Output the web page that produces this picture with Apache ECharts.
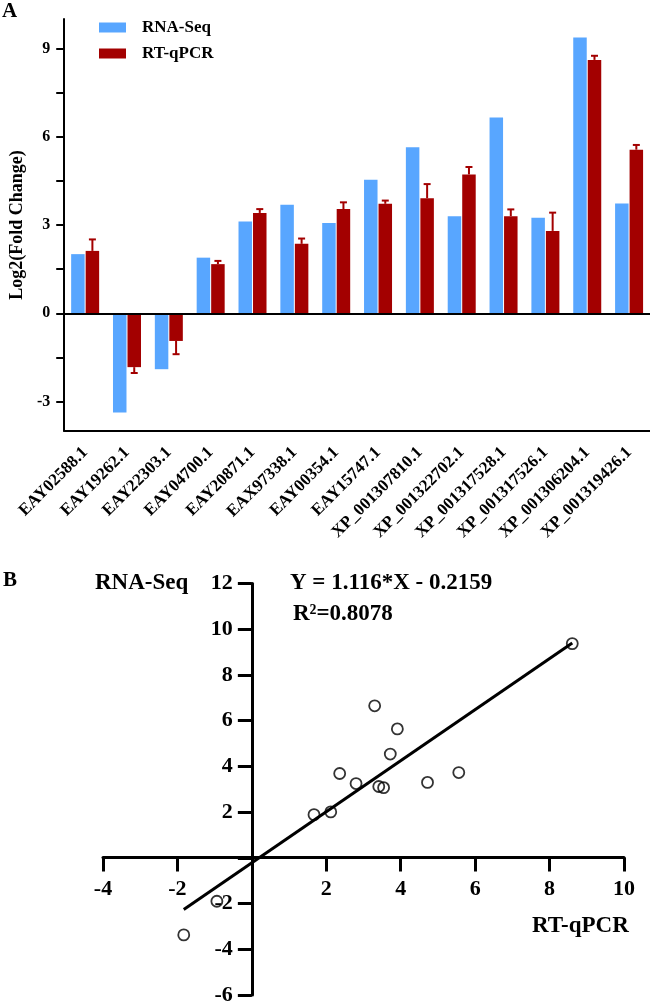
<!DOCTYPE html>
<html>
<head>
<meta charset="utf-8">
<script src="https://cdn.jsdelivr.net/npm/echarts@6/dist/echarts.min.js"></script>
<style>
html,body{margin:0;padding:0;background:#fff;}
#main{width:650px;height:1006px;}
</style>
</head>
<body>
<div id="main"></div>
<script>
// ---- Data ----
const categories = ['EAY02588.1','EAY19262.1','EAY22303.1','EAY04700.1','EAY20871.1','EAX97338.1','EAY00354.1','EAY15747.1','XP_001307810.1','XP_001322702.1','XP_001317528.1','XP_001317526.1','XP_001306204.1','XP_001319426.1'];
const rnaSeq  = [2.01, -3.37, -1.90, 1.89, 3.12, 3.69, 3.07, 4.54, 5.64, 3.30, 6.65, 3.25, 9.37, 3.73];
const rtqPCR  = [2.12, -1.83, -0.94, 1.67, 3.41, 2.36, 3.54, 3.72, 3.91, 4.72, 3.30, 2.80, 8.61, 5.56];
const qpcrErr = [0.39, 0.20, 0.45, 0.11, 0.13, 0.18, 0.23, 0.11, 0.48, 0.25, 0.23, 0.62, 0.14, 0.16];
const barTickValues  = [-3, -1.5, 0, 1.5, 3, 4.5, 6, 7.5, 9];
const barLabelValues = [-3, 0, 3, 6, 9];
const scatterXRange = [-4, 10];
const scatterYRange = [-6, 12];
const slope = 1.116;
const intercept = -0.2159;
const r2Text = '0.8078';

// ---- Derived ----
const scatterData = rtqPCR.map((x, i) => [x, rnaSeq[i]]);
const xMinFit = Math.min(...rtqPCR), xMaxFit = Math.max(...rtqPCR);
const fitLine = [[xMinFit, slope * xMinFit + intercept], [xMaxFit, slope * xMaxFit + intercept]];
const errData = rtqPCR.map((v, i) => [i, v, qpcrErr[i]]);

const FONT = '"Liberation Serif","Times New Roman",serif';
const BAR_W = 13.5, BAR_GAP_PX = 1;

// layout of the lower panel (axes cross at zero)
const G2 = { left: 103, top: 583.5, width: 521, height: 412.5 };
const xZeroOffset = -G2.width * (0 - scatterXRange[0]) / (scatterXRange[1] - scatterXRange[0]);
const yZeroOffset = -G2.height * (0 - scatterYRange[0]) / (scatterYRange[1] - scatterYRange[0]);

const chart = echarts.init(document.getElementById('main'));
const option = {
  animation: false,
  backgroundColor: '#fff',
  textStyle: { fontFamily: FONT, fontWeight: 'bold', color: '#000' },
  grid: [
    { left: 61, top: 19, width: 589, height: 412 },
    G2
  ],
  legend: {
    data: ['RNA-Seq', 'RT-qPCR'],
    orient: 'vertical',
    left: 99, top: 19,
    padding: 0,
    itemWidth: 27, itemHeight: 10, itemGap: 9,
    icon: 'rect',
    textStyle: { fontFamily: FONT, fontWeight: 'bold', fontSize: 17, color: '#000', padding: [0, 0, 0, 11] }
  },
  xAxis: [
    {
      type: 'category', gridIndex: 0, data: categories, boundaryGap: true,
      axisLine: { onZero: false, lineStyle: { color: '#000', width: 2 } },
      axisTick: { alignWithLabel: true, length: 10, lineStyle: { color: '#000', width: 2 } },
      axisLabel: { interval: 0, rotate: 45, margin: 19, fontFamily: FONT, fontWeight: 'bold', fontSize: 17, color: '#000' },
      splitLine: { show: false }
    },
    {
      type: 'value', gridIndex: 1, min: scatterXRange[0], max: scatterXRange[1], interval: 2,
      position: 'bottom', offset: yZeroOffset,
      axisLine: { onZero: false, lineStyle: { color: '#000', width: 3 } },
      axisTick: { length: 14, lineStyle: { color: '#000', width: 3 } },
      axisLabel: { margin: 21, fontFamily: FONT, fontWeight: 'bold', fontSize: 22, color: '#000',
        formatter: v => (v === 0 ? '' : String(v)) },
      splitLine: { show: false }
    }
  ],
  yAxis: [
    {
      type: 'value', gridIndex: 0, min: -4, max: 10,
      name: 'Log2(Fold Change)', nameLocation: 'middle', nameGap: 38,
      nameTextStyle: { fontFamily: FONT, fontWeight: 'bold', fontSize: 18, color: '#000' },
      axisLine: { show: true, lineStyle: { color: '#000', width: 2 } },
      axisTick: { show: true, length: 8, customValues: barTickValues, lineStyle: { color: '#000', width: 2 } },
      axisLabel: { customValues: barLabelValues, margin: 14, fontFamily: FONT, fontWeight: 'bold', fontSize: 16, color: '#000' },
      splitLine: { show: false }
    },
    {
      type: 'value', gridIndex: 1, min: scatterYRange[0], max: scatterYRange[1], interval: 2,
      position: 'left', offset: xZeroOffset,
      axisLine: { show: true, onZero: false, lineStyle: { color: '#000', width: 3 } },
      axisTick: { show: true, length: 14, lineStyle: { color: '#000', width: 3 } },
      axisLabel: { margin: 19, fontFamily: FONT, fontWeight: 'bold', fontSize: 22, color: '#000',
        formatter: v => (v === 0 ? '' : String(v)) },
      splitLine: { show: false }
    }
  ],
  series: [
    {
      name: 'RNA-Seq', type: 'bar', xAxisIndex: 0, yAxisIndex: 0,
      data: rnaSeq, barWidth: BAR_W, barGap: (BAR_GAP_PX / BAR_W * 100) + '%',
      itemStyle: { color: '#58A6FF' },
      markLine: {
        silent: true, symbol: ['none', 'none'], label: { show: false },
        lineStyle: { color: '#000', width: 2, type: 'solid' },
        data: [{ yAxis: 0 }]
      }
    },
    {
      name: 'RT-qPCR', type: 'bar', xAxisIndex: 0, yAxisIndex: 0,
      data: rtqPCR, barWidth: BAR_W,
      itemStyle: { color: '#A30000' }
    },
    {
      name: 'err', type: 'custom', xAxisIndex: 0, yAxisIndex: 0,
      data: errData, z: 3,
      renderItem: function (params, api) {
        const idx = api.value(0), v = api.value(1), e = api.value(2);
        const end = v >= 0 ? v + e : v - e;
        const p0 = api.coord([idx, v]);
        const p1 = api.coord([idx, end]);
        const x = p0[0] + (BAR_W + BAR_GAP_PX) / 2;
        const cap = 3.5;
        const st = { stroke: '#A30000', lineWidth: 2 };
        return {
          type: 'group',
          children: [
            { type: 'line', shape: { x1: x, y1: p0[1], x2: x, y2: p1[1] }, style: st },
            { type: 'line', shape: { x1: x - cap, y1: p1[1], x2: x + cap, y2: p1[1] }, style: st }
          ]
        };
      }
    },
    {
      name: 'fit', type: 'line', xAxisIndex: 1, yAxisIndex: 1,
      data: fitLine, symbol: 'none', z: 2,
      lineStyle: { color: '#000', width: 3 }
    },
    {
      name: 'points', type: 'scatter', xAxisIndex: 1, yAxisIndex: 1,
      data: scatterData, symbol: 'circle', symbolSize: 11, z: 3,
      itemStyle: { color: 'rgba(255,255,255,0)', borderColor: '#000', borderWidth: 1.8 }
    }
  ],
  graphic: [
    { type: 'text', left: 2, top: 1, style: { text: 'A', font: 'bold 21px ' + FONT, fill: '#000' } },
    { type: 'text', left: 3, top: 570, style: { text: 'B', font: 'bold 21px ' + FONT, fill: '#000' } },
    { type: 'text', left: 95, top: 572, style: { text: 'RNA-Seq', font: 'bold 23px ' + FONT, fill: '#000' } },
    { type: 'text', left: 290, top: 572, style: { text: 'Y = ' + slope + '*X - ' + Math.abs(intercept), font: 'bold 23px ' + FONT, fill: '#000' } },
    { type: 'text', left: 293, top: 603, style: { text: 'R²=' + r2Text, font: 'bold 23px ' + FONT, fill: '#000' } },
    { type: 'text', left: 532, top: 915, style: { text: 'RT-qPCR', font: 'bold 23px ' + FONT, fill: '#000' } }
  ]
};
chart.setOption(option);
</script>
</body>
</html>
